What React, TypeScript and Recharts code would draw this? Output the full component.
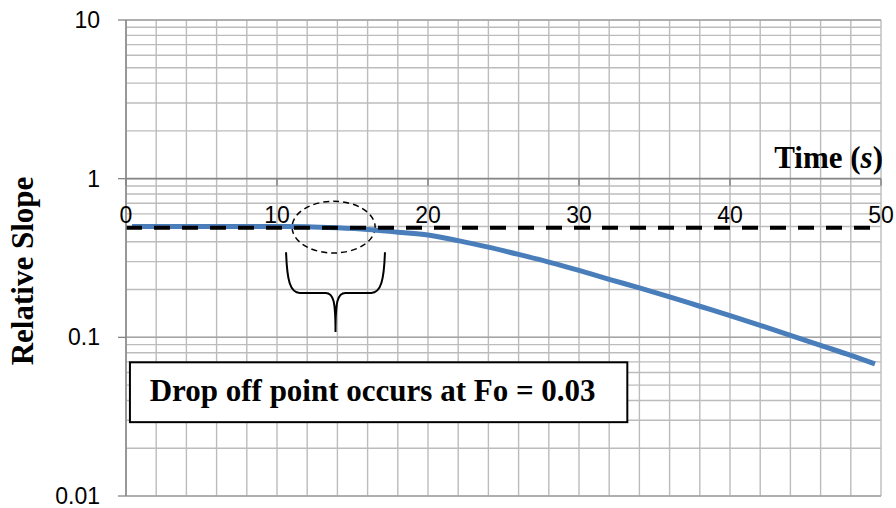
import {
  CartesianGrid,
  Line,
  LineChart,
  ReferenceArea,
  ReferenceDot,
  ReferenceLine,
  XAxis,
  YAxis,
} from "recharts";

// Relative slope vs time
const timeValues = [0.4, 2, 4, 6, 8, 10, 12, 14, 16, 18, 20, 22, 24, 26, 28, 30, 32, 34, 36, 38, 40, 42, 44, 46, 48, 49.6];
const slopeValues = [
  0.5, 0.5, 0.5, 0.5, 0.5, 0.5, 0.498, 0.49, 0.478, 0.46, 0.442, 0.407, 0.37, 0.333, 0.298, 0.264, 0.232,
  0.205, 0.18, 0.157, 0.137, 0.119, 0.103, 0.089, 0.077, 0.068,
];

// Horizontal dashed reference level
const levelTimes = [0, 49.3];
const levelValues = [0.49, 0.49];

const xTickValues = [0, 10, 20, 30, 40, 50];
const xGridValues = [0, 2, 4, 6, 8, 10, 12, 14, 16, 18, 20, 22, 24, 26, 28, 30, 32, 34, 36, 38, 40, 42, 44, 46, 48, 50];
const yTickValues = [0.01, 0.1, 1, 10];
const yTickLabels = ["0.01", "0.1", "1", "10"];
const yGridValues = [
  0.01, 0.02, 0.03, 0.04, 0.05, 0.06, 0.07, 0.08, 0.09,
  0.1, 0.2, 0.3, 0.4, 0.5, 0.6, 0.7, 0.8, 0.9,
  1, 2, 3, 4, 5, 6, 7, 8, 9, 10,
];

const noteText = "Drop off point occurs at Fo = 0.03";

const curveData = timeValues.map((t, i) => ({ t, v: slopeValues[i] }));
const levelData = levelTimes.map((t, i) => ({ t, d: levelValues[i] }));

const serif = "'Liberation Serif', 'DejaVu Serif', serif";
const sans = "'Liberation Sans', Arial, sans-serif";

function EmptyTick() {
  return <g />;
}

function YTick(props: any) {
  const { x, y, payload } = props;
  const idx = yTickValues.indexOf(payload.value);
  if (idx < 0) return <g />;
  return (
    <g>
      <line x1={x + 18} x2={x + 26} y1={y} y2={y} stroke="#868686" strokeWidth={1.3} />
      <text x={x} y={y} textAnchor="end" dominantBaseline="central" fontFamily={sans} fontSize={23} fill="#000">
        {yTickLabels[idx]}
      </text>
    </g>
  );
}

function renderYLabel(props: any) {
  const vb = props.viewBox || { x: 0, y: 20, width: 126, height: 476 };
  const cx = 33;
  const cy = vb.y + vb.height / 2 + 13;
  return (
    <text
      x={cx}
      y={cy}
      transform={`rotate(-90 ${cx} ${cy})`}
      textAnchor="middle"
      fontFamily={serif}
      fontWeight="bold"
      fontSize={31}
      fill="#000"
    >
      Relative Slope
    </text>
  );
}

export default function App() {
  return (
    <div style={{ position: "absolute", left: 0, top: 0, background: "#fff" }}>
      <LineChart width={896} height={508} margin={{ top: 20, right: 15, bottom: 12, left: 0 }}>
        <CartesianGrid stroke="#bcbcbc" strokeWidth={1.4} />
        <XAxis
          type="number"
          dataKey="t"
          domain={[0, 50]}
          ticks={xGridValues}
          interval={0}
          tick={EmptyTick}
          axisLine={false}
          tickLine={false}
          height={0}
          allowDataOverflow
        />
        <YAxis
          scale="log"
          domain={[0.01, 10]}
          ticks={yGridValues}
          interval={0}
          tick={YTick}
          tickSize={8}
          tickMargin={18}
          width={126}
          axisLine={{ stroke: "#868686", strokeWidth: 1.5 }}
          tickLine={false}
          allowDataOverflow
          label={renderYLabel}
        />

        {[10, 0.1, 0.01].map((v) => (
          <ReferenceLine key={v} y={v} stroke="#a4a4a4" strokeWidth={1.5} />
        ))}
        <ReferenceLine y={1} stroke="#868686" strokeWidth={1.6} />

        <ReferenceArea
          x1={0.26}
          x2={33.2}
          y1={0.0292}
          y2={0.0696}
          shape={(p: any) => (
            <g>
              <rect x={p.x} y={p.y} width={p.width} height={p.height} fill="#fff" stroke="#000" strokeWidth={2} />
              <text
                x={p.x + p.width / 2 - 6}
                y={p.y + p.height * 0.64}
                textAnchor="middle"
                fontFamily={serif}
                fontWeight="bold"
                fontSize={31}
                fill="#000"
              >
                {noteText}
              </text>
            </g>
          )}
        />

        <Line
          data={curveData}
          dataKey="v"
          type="monotone"
          stroke="#4a7ebb"
          strokeWidth={5}
          dot={false}
          isAnimationActive={false}
        />
        <Line
          data={levelData}
          dataKey="d"
          type="linear"
          stroke="#000"
          strokeWidth={4}
          strokeDasharray="16 12"
          dot={false}
          isAnimationActive={false}
        />

        {/* dashed ellipse around the drop-off region */}
        <ReferenceArea
          x1={11}
          x2={16.5}
          y1={0.34}
          y2={0.72}
          shape={(p: any) => (
            <ellipse
              cx={p.x + p.width / 2}
              cy={p.y + p.height / 2}
              rx={p.width / 2}
              ry={p.height / 2}
              fill="none"
              stroke="#000"
              strokeWidth={1.5}
              strokeDasharray="6 4"
            />
          )}
        />

        {/* curly brace under the ellipse */}
        <ReferenceArea
          x1={10.6}
          x2={17.15}
          y1={0.108}
          y2={0.344}
          shape={(p: any) => {
            const X = (u: number) => p.x + u * p.width;
            const Y = (v: number) => p.y + v * p.height;
            const d = [
              `M ${X(0)} ${Y(0)}`,
              `C ${X(0.01)} ${Y(0.35)} ${X(0.04)} ${Y(0.51)} ${X(0.14)} ${Y(0.51)}`,
              `L ${X(0.4)} ${Y(0.51)}`,
              `C ${X(0.48)} ${Y(0.51)} ${X(0.5)} ${Y(0.62)} ${X(0.5)} ${Y(1)}`,
              `M ${X(1)} ${Y(0)}`,
              `C ${X(0.99)} ${Y(0.35)} ${X(0.96)} ${Y(0.51)} ${X(0.86)} ${Y(0.51)}`,
              `L ${X(0.6)} ${Y(0.51)}`,
              `C ${X(0.52)} ${Y(0.51)} ${X(0.5)} ${Y(0.62)} ${X(0.5)} ${Y(1)}`,
            ].join(" ");
            return <path d={d} fill="none" stroke="#000" strokeWidth={2} />;
          }}
        />

        {/* x axis drawn at y = 1 */}
        {xTickValues.map((t) => (
          <ReferenceDot
            key={t}
            x={t}
            y={1}
            r={0}
            shape={(p: any) => (
              <g>
                <line x1={p.cx} x2={p.cx} y1={p.cy} y2={p.cy + 7} stroke="#868686" strokeWidth={1.5} />
                <text x={p.cx} y={p.cy + 44} textAnchor="middle" fontFamily={sans} fontSize={23} fill="#000">
                  {String(t)}
                </text>
              </g>
            )}
          />
        ))}
        <ReferenceDot
          x={50}
          y={1}
          r={0}
          shape={(p: any) => (
            <text x={p.cx + 2} y={p.cy - 11} textAnchor="end" fontFamily={serif} fontWeight="bold" fontSize={31} fill="#000">
              Time (<tspan fontStyle="italic">s</tspan>)
            </text>
          )}
        />
      </LineChart>
    </div>
  );
}
